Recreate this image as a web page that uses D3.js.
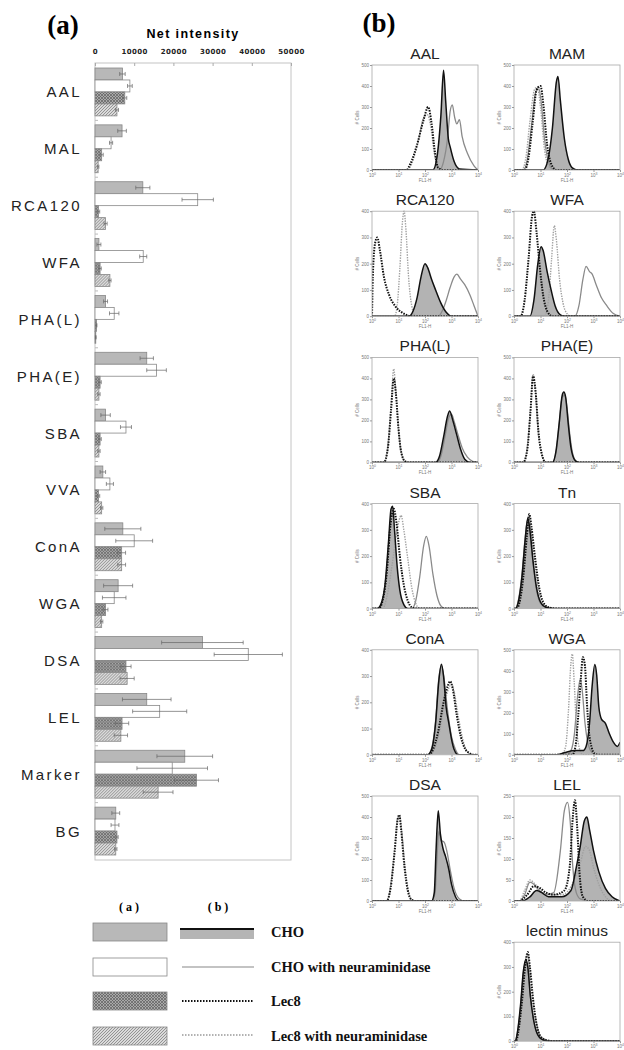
<!DOCTYPE html>
<html>
<head>
<meta charset="utf-8">
<script src="https://d3js.org/d3.v7.min.js"></script>
<style>
body{margin:0;background:#fff;}
svg{display:block;}
</style>
</head>
<body>
<div id="chart"></div>
<script>
// ---- panel (a) data: net intensity per lectin
const categories = ["AAL","MAL","RCA120","WFA","PHA(L)","PHA(E)","SBA","VVA","ConA","WGA","DSA","LEL","Marker","BG"];
const choValues    = [7000,6900,12200,1000,2700,13200,2700,2000,7100,5900,27400,13200,22900,5300];
const choErr       = [700,1100,1800,500,500,1700,1200,700,4600,3700,10400,6200,7100,1000];
const choNeuValues = [8900,4100,26200,12300,4900,15700,7900,3800,10000,4900,39100,16500,19700,5100];
const choNeuErr    = [600,400,4000,900,1200,2500,1400,900,4700,3000,8700,6900,9000,1000];
const lec8Values   = [7600,1700,900,1300,400,1300,1300,900,6800,2700,7900,6900,25900,5600];
const lec8Err      = [500,400,300,300,100,300,300,300,1000,600,1300,1700,5600,300];
const lec8NeuValues= [5600,800,2700,3800,200,1000,1000,1700,6800,1700,8200,6600,16100,5300];
const lec8NeuErr   = [400,200,400,300,100,300,300,300,1000,300,1800,1700,3800,300];
const xTicks = [0,10000,20000,30000,40000,50000];

// ---- panel (b) data: flow cytometry histograms, points = [log10 FL1-H, # cells]
const histNames = ["AAL","MAM","RCA120","WFA","PHA(L)","PHA(E)","SBA","Tn","ConA","WGA","DSA","LEL","lectin minus"];
const histYMax  = [500,500,400,400,500,500,400,400,400,500,500,250,400];
const histYStep = [100,100,100,100,100,100,100,100,100,100,100,50,100];

const choHist = [
  [[0,0],[2.3,0],[2.45,60],[2.6,260],[2.7,475],[2.78,330],[2.88,150],[2.95,110],[3.1,40],[3.3,5],[4,0]],
  [[0,0],[1.1,0],[1.3,60],[1.45,200],[1.6,420],[1.66,445],[1.75,330],[1.9,150],[2.05,50],[2.2,10],[2.4,0],[4,0]],
  [[0,0],[1.4,0],[1.55,20],[1.7,70],[1.85,150],[2.0,200],[2.1,185],[2.25,140],[2.4,100],[2.6,50],[2.8,15],[3.0,0],[4,0]],
  [[0,0],[0.6,0],[0.75,60],[0.9,200],[1.02,265],[1.1,250],[1.25,170],[1.4,100],[1.55,40],[1.75,5],[1.9,0],[4,0]],
  [[0,0],[2.4,0],[2.55,30],[2.7,120],[2.85,220],[2.93,245],[3.05,200],[3.2,130],[3.35,60],[3.5,15],[3.7,0],[4,0]],
  [[0,0],[1.45,0],[1.58,50],[1.7,180],[1.82,320],[1.88,335],[1.95,310],[2.05,180],[2.15,70],[2.3,10],[2.45,0],[4,0]],
  [[0,0],[0.2,0],[0.35,20],[0.5,100],[0.62,250],[0.72,380],[0.78,390],[0.85,300],[0.95,160],[1.05,70],[1.2,15],[1.35,0],[4,0]],
  [[0,0],[0.05,0],[0.15,20],[0.3,120],[0.42,260],[0.52,345],[0.6,300],[0.72,180],[0.85,80],[1.0,25],[1.2,5],[1.5,0],[4,0]],
  [[0,0],[2.1,0],[2.25,20],[2.4,120],[2.52,280],[2.62,345],[2.7,300],[2.8,180],[2.9,120],[3.0,60],[3.1,20],[3.25,0],[4,0]],
  [[0,0],[1.6,0],[1.9,10],[2.3,20],[2.6,20],[2.72,40],[2.85,150],[2.95,330],[3.05,430],[3.12,380],[3.2,230],[3.3,170],[3.45,150],[3.6,100],[3.75,60],[3.9,40],[4.0,60]],
  [[0,0],[2.25,0],[2.35,40],[2.42,250],[2.5,430],[2.58,320],[2.68,250],[2.78,210],[2.9,150],[3.0,80],[3.15,20],[3.3,0],[4,0]],
  [[0,0],[0.3,0],[0.6,10],[0.85,25],[1.05,20],[1.3,10],[1.8,10],[2.15,25],[2.35,80],[2.5,130],[2.65,190],[2.75,200],[2.85,170],[3.0,120],[3.2,70],[3.45,30],[3.7,10],[4,0]],
  [[0,0],[0.05,0],[0.12,30],[0.25,150],[0.35,280],[0.45,330],[0.52,300],[0.62,180],[0.75,80],[0.9,25],[1.1,5],[1.4,0],[4,0]]
];
const choNeuHist = [
  [[0,0],[2.55,0],[2.7,40],[2.85,150],[2.95,280],[3.03,310],[3.12,250],[3.2,220],[3.3,240],[3.4,160],[3.6,80],[3.85,20],[4,0]],
  [[0,0],[0.35,0],[0.5,50],[0.65,200],[0.8,360],[0.92,395],[1.02,330],[1.15,150],[1.3,40],[1.5,0],[4,0]],
  [[0,0],[2.5,0],[2.65,20],[2.8,60],[2.95,110],[3.1,150],[3.2,160],[3.35,140],[3.5,120],[3.7,80],[3.85,40],[4,0]],
  [[0,0],[2.3,0],[2.45,40],[2.6,140],[2.72,190],[2.85,170],[2.95,160],[3.1,120],[3.3,70],[3.5,40],[3.75,10],[4,0]],
  [[0,0],[2.45,0],[2.6,30],[2.75,120],[2.9,215],[3.0,230],[3.1,195],[3.25,130],[3.4,70],[3.6,25],[3.8,5],[4,0]],
  [[0,0],[1.45,0],[1.6,60],[1.72,200],[1.82,310],[1.92,320],[2.0,260],[2.1,140],[2.2,50],[2.35,5],[2.5,0],[4,0]],
  [[0,0],[1.5,0],[1.65,30],[1.8,120],[1.95,240],[2.05,275],[2.15,240],[2.3,130],[2.45,50],[2.6,10],[2.75,0],[4,0]],
  [[0,0],[0.05,0],[0.15,25],[0.3,130],[0.42,270],[0.52,340],[0.6,290],[0.72,170],[0.85,70],[1.0,20],[1.2,5],[1.5,0],[4,0]],
  [[0,0],[2.1,0],[2.25,25],[2.4,130],[2.52,290],[2.62,340],[2.72,290],[2.85,170],[3.0,70],[3.15,20],[3.3,0],[4,0]],
  [[0,0],[2.0,0],[2.15,20],[2.28,100],[2.4,280],[2.5,360],[2.58,300],[2.68,150],[2.8,50],[2.95,10],[3.1,0],[4,0]],
  [[0,0],[2.25,0],[2.38,40],[2.45,200],[2.52,330],[2.6,290],[2.72,280],[2.82,240],[2.95,150],[3.1,60],[3.3,10],[3.5,0],[4,0]],
  [[0,0],[0.2,0],[0.4,15],[0.6,45],[0.75,40],[0.95,25],[1.2,15],[1.5,20],[1.75,120],[1.9,215],[2.02,235],[2.12,190],[2.22,80],[2.35,20],[2.5,5],[2.8,0],[4,0]],
  [[0,0],[0.05,0],[0.12,30],[0.25,140],[0.35,270],[0.45,320],[0.52,300],[0.62,180],[0.75,80],[0.9,25],[1.1,5],[1.4,0],[4,0]]
];
const lec8Hist = [
  [[0,0],[1.3,0],[1.45,30],[1.7,120],[1.95,240],[2.12,300],[2.25,220],[2.38,80],[2.5,10],[2.7,0],[4,0]],
  [[0,0],[0.4,0],[0.55,60],[0.7,220],[0.85,380],[1.0,400],[1.1,320],[1.25,120],[1.4,30],[1.6,0],[4,0]],
  [[0,0],[0.03,150],[0.12,280],[0.2,300],[0.3,250],[0.45,150],[0.65,80],[0.9,35],[1.2,10],[1.5,0],[4,0]],
  [[0,0],[0.25,0],[0.4,60],[0.55,220],[0.68,380],[0.75,400],[0.85,320],[0.98,180],[1.1,80],[1.25,20],[1.45,0],[4,0]],
  [[0,0],[0.45,0],[0.6,70],[0.72,250],[0.82,400],[0.9,330],[1.0,160],[1.1,50],[1.25,5],[1.4,0],[4,0]],
  [[0,0],[0.35,0],[0.5,60],[0.62,240],[0.72,410],[0.82,330],[0.92,150],[1.05,40],[1.2,0],[4,0]],
  [[0,0],[0.25,0],[0.4,30],[0.55,130],[0.7,320],[0.82,380],[0.92,330],[1.05,200],[1.2,90],[1.35,30],[1.5,5],[1.65,0],[4,0]],
  [[0,0],[0.1,0],[0.2,20],[0.35,120],[0.48,270],[0.58,360],[0.66,310],[0.8,190],[0.95,80],[1.1,25],[1.3,5],[1.6,0],[4,0]],
  [[0,0],[2.15,0],[2.3,20],[2.5,90],[2.7,200],[2.85,260],[2.95,280],[3.05,250],[3.2,150],[3.35,70],[3.5,25],[3.7,5],[3.85,0],[4,0]],
  [[0,0],[2.2,0],[2.32,40],[2.42,180],[2.52,360],[2.6,465],[2.68,420],[2.75,250],[2.82,120],[2.92,40],[3.05,5],[3.2,0],[4,0]],
  [[0,0],[0.55,0],[0.7,60],[0.85,230],[0.97,390],[1.03,410],[1.1,340],[1.22,170],[1.35,50],[1.5,5],[1.65,0],[4,0]],
  [[0,0],[0.2,0],[0.5,15],[0.75,35],[1.0,30],[1.2,20],[1.5,15],[1.9,25],[2.1,80],[2.22,200],[2.3,240],[2.38,180],[2.48,60],[2.6,10],[2.8,0],[4,0]],
  [[0,0],[0.08,0],[0.15,30],[0.3,160],[0.42,300],[0.52,360],[0.6,300],[0.72,170],[0.85,70],[1.0,20],[1.2,5],[1.5,0],[4,0]]
];
const lec8NeuHist = [
  [[0,0],[1.35,0],[1.5,30],[1.75,140],[1.95,250],[2.08,265],[2.2,220],[2.35,80],[2.5,10],[2.7,0],[4,0]],
  [[0,0],[0.3,0],[0.45,60],[0.6,230],[0.78,385],[0.88,395],[1.0,300],[1.15,100],[1.3,20],[1.5,0],[4,0]],
  [[0,0],[0.85,0],[0.95,40],[1.05,180],[1.15,360],[1.21,400],[1.28,330],[1.38,150],[1.5,40],[1.65,0],[4,0]],
  [[0,0],[1.15,0],[1.3,60],[1.42,220],[1.52,345],[1.6,290],[1.72,140],[1.85,50],[2.0,10],[2.15,0],[4,0]],
  [[0,0],[0.45,0],[0.6,80],[0.72,270],[0.82,445],[0.9,340],[1.0,160],[1.1,50],[1.25,5],[1.4,0],[4,0]],
  [[0,0],[0.35,0],[0.5,70],[0.62,250],[0.72,420],[0.82,320],[0.92,140],[1.05,35],[1.2,0],[4,0]],
  [[0,0],[0.4,0],[0.55,40],[0.75,160],[0.95,300],[1.1,355],[1.2,300],[1.35,190],[1.5,80],[1.65,20],[1.8,0],[4,0]],
  [[0,0],[0.1,0],[0.2,25],[0.35,130],[0.48,280],[0.56,355],[0.64,300],[0.78,180],[0.92,70],[1.1,20],[1.3,5],[1.6,0],[4,0]],
  [[0,0],[2.2,0],[2.35,20],[2.55,90],[2.75,200],[2.9,255],[3.0,270],[3.1,240],[3.25,150],[3.4,70],[3.55,20],[3.75,0],[4,0]],
  [[0,0],[1.8,0],[1.95,40],[2.05,200],[2.15,440],[2.2,480],[2.27,350],[2.35,150],[2.45,40],[2.6,0],[4,0]],
  [[0,0],[0.55,0],[0.7,70],[0.85,240],[0.97,395],[1.05,400],[1.12,330],[1.25,160],[1.38,45],[1.5,5],[1.65,0],[4,0]],
  [[0,0],[0.2,0],[0.4,25],[0.6,50],[0.8,40],[1.0,25],[1.3,15],[1.8,15],[2.2,40],[2.5,90],[2.7,130],[2.85,120],[3.0,80],[3.2,40],[3.45,10],[3.7,0],[4,0]],
  [[0,0],[0.08,0],[0.15,35],[0.3,170],[0.42,310],[0.5,355],[0.58,300],[0.7,170],[0.85,70],[1.0,20],[1.2,5],[1.5,0],[4,0]]
];

const legendNames = ["CHO","CHO with neuraminidase","Lec8","Lec8 with neuraminidase"];

let width = 624, height = 1050;

let svg = d3.select("#chart").append("svg")
  .attr("width", width).attr("height", height);

// patterns for bar fills
let defs = svg.append("defs");
let cross = defs.append("pattern").attr("id","cross")
  .attr("patternUnits","userSpaceOnUse").attr("width",3).attr("height",3);
cross.append("rect").attr("width",3).attr("height",3).attr("fill","#a9a9a9");
cross.append("path").attr("d","M0,0L3,3M3,0L0,3").attr("stroke","#5e5e5e").attr("stroke-width",0.7);
let hatch = defs.append("pattern").attr("id","hatch")
  .attr("patternUnits","userSpaceOnUse").attr("width",3).attr("height",3);
hatch.append("rect").attr("width",3).attr("height",3).attr("fill","#dadada");
hatch.append("path").attr("d","M-1,1L1,-1M0,3L3,0M2,4L4,2").attr("stroke","#747474").attr("stroke-width",0.7);

const barFills = ["#b8b8b8","#ffffff","url(#cross)","url(#hatch)"];
const seriesVals = [choValues, choNeuValues, lec8Values, lec8NeuValues];
const seriesErr = [choErr, choNeuErr, lec8Err, lec8NeuErr];

// ================= panel (a)
let ax = {left:95, right:291, top:63, bottom:860};

svg.append("text").text("(a)")
  .attr("x", 63).attr("y", 34).attr("text-anchor","middle")
  .style("font-family","Liberation Serif, Times New Roman, serif")
  .style("font-weight","bold").style("font-size","27px");

svg.append("text").text("Net intensity")
  .attr("x", 193).attr("y", 38).attr("text-anchor","middle")
  .style("font-family","Liberation Sans, Arial, sans-serif")
  .style("font-weight","bold").style("font-size","12.5px").style("letter-spacing","1.4px");

let xScale = d3.scaleLinear().domain([0,50000]).range([ax.left, ax.right]);
let yBand = d3.scaleBand().domain(categories).range([ax.top, ax.bottom])
  .paddingInner(0.158).paddingOuter(0.088);
let subBand = d3.scaleBand().domain([0,1,2,3]).range([0, yBand.bandwidth()]);

svg.append("rect").attr("x",ax.left).attr("y",ax.top)
  .attr("width",ax.right-ax.left).attr("height",ax.bottom-ax.top)
  .attr("fill","none").attr("stroke","#c4c4c4").attr("stroke-width",1);

let xAxis = svg.append("g").attr("transform","translate(0,"+ax.top+")")
  .call(d3.axisTop(xScale).tickValues(xTicks).tickFormat(d3.format("d"))
    .tickSizeInner(-3).tickSizeOuter(0).tickPadding(9));
xAxis.select(".domain").remove();
xAxis.selectAll("line").attr("stroke","#aaa");
xAxis.selectAll("text").style("font-family","DejaVu Sans, sans-serif")
  .style("font-weight","bold").style("font-size","7px").style("letter-spacing","0.4px").attr("fill","#222");

// small separator ticks on the left edge
svg.append("g").selectAll("line").data(categories.slice(1)).enter().append("line")
  .attr("x1",ax.left).attr("x2",ax.left+3)
  .attr("y1",d=>yBand(d)-yBand.step()*yBand.paddingInner()/2)
  .attr("y2",d=>yBand(d)-yBand.step()*yBand.paddingInner()/2)
  .attr("stroke","#bbb");

svg.append("g").selectAll("text").data(categories).enter().append("text")
  .text(d=>d)
  .attr("x", 82).attr("y", d=>yBand(d)+yBand.bandwidth()/2)
  .attr("text-anchor","end").attr("dominant-baseline","central")
  .style("font-family","Liberation Sans, Arial, sans-serif")
  .style("font-size","15px").style("letter-spacing","2.4px").attr("fill","#222");

let groups = svg.append("g").selectAll("g").data(categories).enter().append("g")
  .attr("transform", d=>"translate(0,"+yBand(d)+")");

groups.each(function(cat, ci){
  let g = d3.select(this);
  for (let s = 0; s < 4; s++) {
    let v = seriesVals[s][ci], e = seriesErr[s][ci];
    let y0 = subBand(s), h = subBand.bandwidth();
    g.append("rect").attr("x", xScale(0)).attr("y", y0)
      .attr("width", xScale(v)-xScale(0)).attr("height", h)
      .attr("fill", barFills[s]).attr("stroke","#888").attr("stroke-width",0.8);
    let cy = y0 + h/2;
    g.append("line").attr("x1", xScale(Math.max(0,v-e))).attr("x2", xScale(v+e))
      .attr("y1", cy).attr("y2", cy).attr("stroke","#666").attr("stroke-width",0.7);
    [v-e, v+e].forEach(function(t){
      g.append("line").attr("x1", xScale(Math.max(0,t))).attr("x2", xScale(Math.max(0,t)))
        .attr("y1", cy-2).attr("y2", cy+2).attr("stroke","#666").attr("stroke-width",0.7);
    });
  }
});

// ================= legend
let serif = "Liberation Serif, Times New Roman, serif";
svg.append("text").text("( a )").attr("x",129).attr("y",911).attr("text-anchor","middle")
  .style("font-family",serif).style("font-weight","bold").style("font-size","12px");
svg.append("text").text("( b )").attr("x",218).attr("y",911).attr("text-anchor","middle")
  .style("font-family",serif).style("font-weight","bold").style("font-size","12px");

let legRowY = [932, 967, 1001, 1036];
legendNames.forEach(function(name, i){
  let cy = legRowY[i];
  svg.append("rect").attr("x",93).attr("y",cy-9).attr("width",74).attr("height",18)
    .attr("fill", barFills[i]).attr("stroke","#888").attr("stroke-width",0.8);
  svg.append("text").text(name).attr("x",271).attr("y",cy+5)
    .style("font-family",serif).style("font-weight","bold").style("font-size","14.5px").attr("fill","#111");
});
svg.append("rect").attr("x",180).attr("y",929).attr("width",74).attr("height",10).attr("fill","#b5b5b5");
svg.append("line").attr("x1",180).attr("x2",254).attr("y1",929).attr("y2",929).attr("stroke","#111").attr("stroke-width",2);
svg.append("line").attr("x1",182).attr("x2",254).attr("y1",967).attr("y2",967).attr("stroke","#888").attr("stroke-width",1.2);
svg.append("line").attr("x1",182).attr("x2",254).attr("y1",1001).attr("y2",1001).attr("stroke","#111").attr("stroke-width",2).attr("stroke-dasharray","1.5,1.5");
svg.append("line").attr("x1",182).attr("x2",254).attr("y1",1035).attr("y2",1035).attr("stroke","#999").attr("stroke-width",1.3).attr("stroke-dasharray","1.5,1.5");

// ================= panel (b)
svg.append("text").text("(b)")
  .attr("x", 379).attr("y", 32).attr("text-anchor","middle")
  .style("font-family",serif).style("font-weight","bold").style("font-size","27px");

let colLeft = [372, 514];
let histW = 106;

histNames.forEach(function(name, i){
  let last = (i === histNames.length-1);
  let col = last ? 1 : i % 2;
  let row = Math.floor(i/2);
  let left = colLeft[col];
  let top = 65 + row*146.2;
  let histH = last ? 99 : 105;
  let g = svg.append("g");

  let hx = d3.scaleLinear().domain([0,4]).range([left, left+histW]);
  let hy = d3.scaleLinear().domain([0, histYMax[i]]).range([top+histH, top]);

  g.append("text").text(name).attr("x", left+histW/2).attr("y", top-6)
    .attr("text-anchor","middle")
    .style("font-family","Liberation Sans, Arial, sans-serif").style("font-size","15.5px").attr("fill","#222");

  let clipId = "clip"+i;
  defs.append("clipPath").attr("id",clipId).append("rect")
    .attr("x",left).attr("y",top-2).attr("width",histW).attr("height",histH+2);

  let area = d3.area().x(d=>hx(d[0])).y0(hy(0)).y1(d=>hy(d[1])).curve(d3.curveMonotoneX);
  let line = d3.line().x(d=>hx(d[0])).y(d=>hy(d[1])).curve(d3.curveMonotoneX);

  let plot = g.append("g").attr("clip-path","url(#"+clipId+")");
  plot.append("path").attr("d", area(choHist[i])).attr("fill","#b3b3b3");
  plot.append("path").attr("d", line(choNeuHist[i])).attr("fill","none")
    .attr("stroke","#8a8a8a").attr("stroke-width",1.3);
  plot.append("path").attr("d", line(lec8NeuHist[i])).attr("fill","none")
    .attr("stroke","#a0a0a0").attr("stroke-width",1.4).attr("stroke-dasharray","1.4,1.2");
  plot.append("path").attr("d", line(lec8Hist[i])).attr("fill","none")
    .attr("stroke","#111").attr("stroke-width",2).attr("stroke-dasharray","1.5,1.2");
  plot.append("path").attr("d", line(choHist[i])).attr("fill","none")
    .attr("stroke","#111").attr("stroke-width",1.5);

  g.append("rect").attr("x",left).attr("y",top).attr("width",histW).attr("height",histH)
    .attr("fill","none").attr("stroke","#a8a8a8").attr("stroke-width",0.8);

  let yAx = g.append("g").attr("transform","translate("+left+",0)")
    .call(d3.axisLeft(hy).tickValues(d3.range(0, histYMax[i]+1, histYStep[i])).tickSize(2).tickPadding(1));
  yAx.select(".domain").remove();
  yAx.selectAll("line").attr("stroke","#999");
  yAx.selectAll("text").style("font-size","4.5px").style("font-family","Liberation Sans, Arial, sans-serif").attr("fill","#777");

  let xAx = g.append("g").attr("transform","translate(0,"+(top+histH)+")")
    .call(d3.axisBottom(hx).tickValues([0,1,2,3,4]).tickSize(2).tickPadding(2).tickFormat(""));
  xAx.select(".domain").remove();
  xAx.selectAll("line").attr("stroke","#999");
  xAx.selectAll(".tick").append("text").attr("y",7).attr("text-anchor","middle")
    .style("font-size","4.5px").style("font-family","Liberation Sans, Arial, sans-serif").attr("fill","#777")
    .each(function(d){
      let t = d3.select(this);
      t.append("tspan").text("10");
      t.append("tspan").text(d).attr("dy","-2").style("font-size","3.5px");
    });

  if (!last) {
    g.append("text").text("FL1-H").attr("x", left+histW/2).attr("y", top+histH+12)
      .attr("text-anchor","middle").style("font-size","4.5px")
      .style("font-family","Liberation Sans, Arial, sans-serif").attr("fill","#777");
  }
  g.append("text").text("# Cells")
    .attr("transform","translate("+(left-13)+","+(top+histH/2)+") rotate(-90)")
    .attr("text-anchor","middle").style("font-size","4.5px")
    .style("font-family","Liberation Sans, Arial, sans-serif").attr("fill","#777");
});
</script>
</body>
</html>
